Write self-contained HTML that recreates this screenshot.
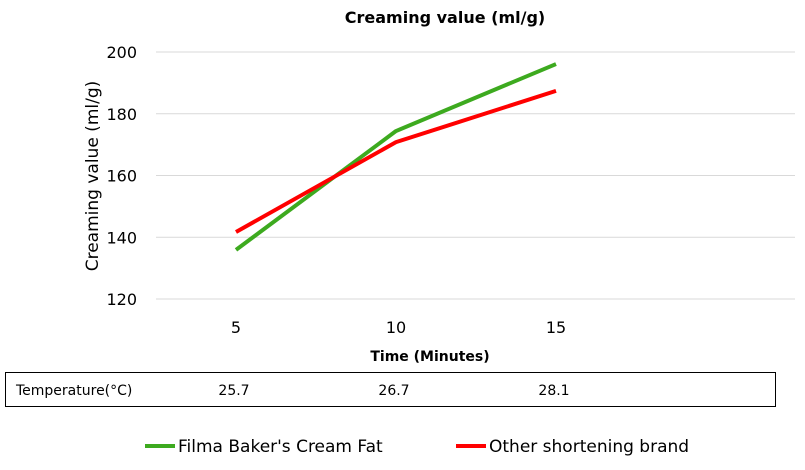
<!DOCTYPE html>
<html><head><meta charset="utf-8"><style>
body{margin:0;background:#fff;}
svg text{font-family:"DejaVu Sans","Liberation Sans",sans-serif;}
</style></head><body>
<svg id="chart" width="805" height="465">
<text x="445" y="23" text-anchor="middle" font-size="16" font-weight="bold" fill="#000">Creaming value (ml/g)</text>
<text transform="translate(98,176) rotate(-90)" text-anchor="middle" font-size="17" fill="#000">Creaming value (ml/g)</text>
<text x="430" y="361" text-anchor="middle" font-size="14" font-weight="bold">Time (Minutes)</text>
<rect x="5.5" y="372.5" width="770" height="34" fill="none" stroke="#000"/>
<text x="16" y="395" font-size="14">Temperature(°C)</text>
<g id="grid"></g><g id="temps"></g><g id="series"></g>
<g>
<line x1="145" y1="446" x2="175" y2="446" stroke="#3daa1f" stroke-width="4"/>
<text x="178" y="452" font-size="17">Filma Baker's Cream Fat</text>
<line x1="456" y1="446" x2="486" y2="446" stroke="#ff0000" stroke-width="4"/>
<text x="489" y="452" font-size="17">Other shortening brand</text>
</g>
</svg>
<script>
const categories=["5","10","15"];
const filma=[135.9,174.4,196.1];
const other=[141.7,170.8,187.4];
const temps=["25.7","26.7","28.1"];
const yTicks=[120,140,160,180,200];
const ns="http://www.w3.org/2000/svg";
const x0=156,catW=160,yMin=120,yMax=200,yTop=52,yBot=299;
const xs=i=>x0+catW*(i+0.5);
const ys=v=>yBot-(v-yMin)/(yMax-yMin)*(yBot-yTop);
function mk(t,a,p){const e=document.createElementNS(ns,t);for(const k in a)e.setAttribute(k,a[k]);p.appendChild(e);return e;}
const g=document.getElementById('grid');
yTicks.forEach(v=>{
 const l=mk('line',{x1:x0,x2:795,y1:ys(v),y2:ys(v),stroke:'#d9d9d9'},g);
 
 
 const t=mk('text',{x:137,y:ys(v)+6,'text-anchor':'end','font-size':'16'},g);t.textContent=v;
 
 
});
categories.forEach((c,i)=>{
 const t=mk('text',{x:xs(i),y:333,'text-anchor':'middle','font-size':'16'},g);t.textContent=c;
 
 
});
const tg=document.getElementById('temps');
temps.forEach((c,i)=>{
 const t=mk('text',{x:xs(i)-2,y:395,'text-anchor':'middle','font-size':'14'},tg);t.textContent=c;
 
 
});
const sg=document.getElementById('series');
[[filma,'#3daa1f','line-filma'],[other,'#ff0000','line-other']].forEach(([d,col,n])=>{
 const p=mk('polyline',{points:d.map((v,i)=>xs(i)+','+ys(v)).join(' '),fill:'none',stroke:col,'stroke-width':4,'stroke-linejoin':'round'},sg);
 
 
});
</script>
</body></html>
